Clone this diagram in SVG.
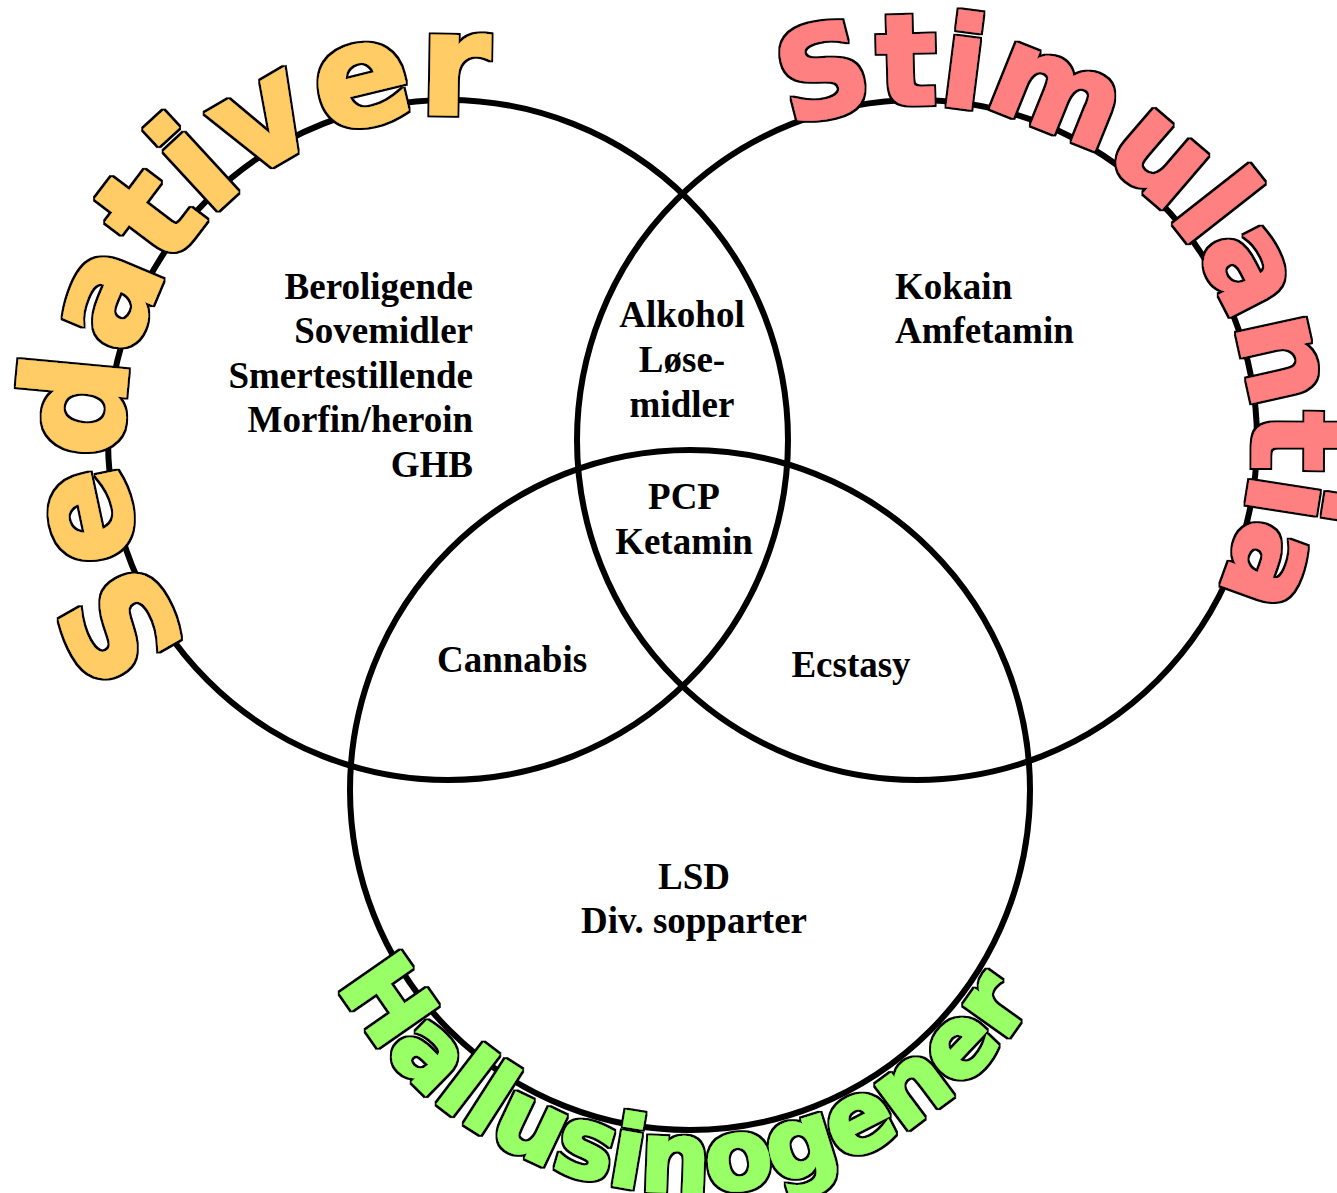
<svg xmlns="http://www.w3.org/2000/svg" width="1337" height="1193" viewBox="0 0 1337 1193">
<style>
.ring{fill:none;stroke:#000;stroke-width:6}
.lbl{font-family:"Liberation Serif","Times New Roman",serif;font-weight:bold;font-size:37px;fill:#000}
.arc{font-family:"DejaVu Sans",Verdana,sans-serif;font-weight:bold;stroke-width:3;stroke-linejoin:miter;filter:url(#outline)}
</style>
<defs>
<filter id="outline" x="-5%" y="-5%" width="110%" height="110%">
<feMorphology in="SourceAlpha" operator="dilate" radius="1.8" result="d"/>
<feMerge><feMergeNode in="d"/><feMergeNode in="SourceGraphic"/></feMerge>
</filter>
<path id="pSed" d="M192.9,642.9 A326,326 0 0 1 611,157.7"/>
<path id="pSti" d="M791.1,128.5 A336,336 0 0 1 1174.4,656"/>
<path id="pHal" d="M338.4,984.9 A402,402 0 0 0 1090.5,825"/>
</defs>
<rect width="1337" height="1193" fill="#fff"/>
<g id="circles">
<circle id="c-sedativer" class="ring" cx="448" cy="440" r="340"/>
<circle id="c-stimulantia" class="ring" cx="917" cy="440" r="340"/>
<circle id="c-hallusinogener" class="ring" cx="690" cy="790" r="340"/>
</g>
<g id="titles">
<text id="t-sedativer" class="arc" font-size="142" fill="#FFCC66" stroke="#FFCC66"><textPath href="#pSed">Sedativer</textPath></text>
<text id="t-stimulantia" class="arc" font-size="125" fill="#FF8080" stroke="#FF8080"><textPath href="#pSti">Stimulantia</textPath></text>
<text id="t-hallusinogener" class="arc" font-size="98" fill="#99FF66" stroke="#99FF66"><textPath href="#pHal">Hallusinogener</textPath></text>
</g>
<g id="region-sedativer" class="lbl" text-anchor="end">
<text x="473" y="299">Beroligende</text>
<text x="473" y="343">Sovemidler</text>
<text x="473" y="388">Smertestillende</text>
<text x="473" y="432">Morfin/heroin</text>
<text x="473" y="477">GHB</text>
</g>
<g id="region-stimulantia" class="lbl">
<text x="895" y="299">Kokain</text>
<text x="895" y="343">Amfetamin</text>
</g>
<g id="region-sed-stim" class="lbl" text-anchor="middle">
<text x="682" y="327">Alkohol</text>
<text x="682" y="372">Løse-</text>
<text x="682" y="417">midler</text>
</g>
<g id="region-all" class="lbl" text-anchor="middle">
<text x="684" y="509">PCP</text>
<text x="684" y="554">Ketamin</text>
</g>
<g id="region-sed-hal" class="lbl" text-anchor="middle">
<text x="512" y="672">Cannabis</text>
</g>
<g id="region-stim-hal" class="lbl" text-anchor="middle">
<text x="851" y="677">Ecstasy</text>
</g>
<g id="region-hallusinogener" class="lbl" text-anchor="middle">
<text x="694" y="889">LSD</text>
<text x="694" y="933">Div. sopparter</text>
</g>
</svg>
